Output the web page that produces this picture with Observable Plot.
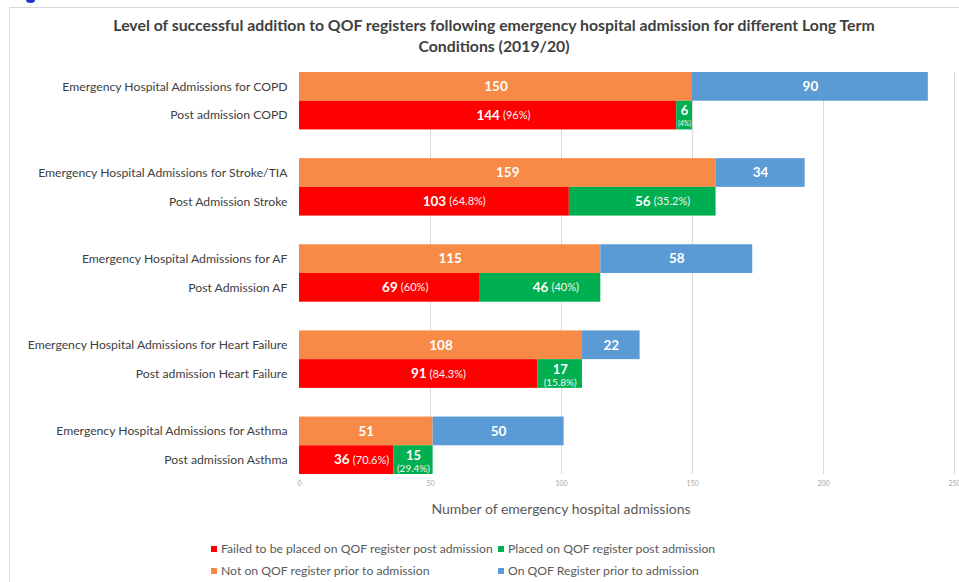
<!DOCTYPE html>
<html>
<head>
<meta charset="utf-8">
<script src="https://cdn.jsdelivr.net/npm/d3@7"></script>
<script src="https://cdn.jsdelivr.net/npm/@observablehq/plot@0.6"></script>
<style>
  html, body { margin: 0; padding: 0; width: 959px; height: 582px; overflow: hidden; background: #fff; font-family: Lato, "Open Sans", sans-serif; }
  #frame { position: absolute; left: 9px; top: 7px; width: 970px; height: 600px; border-left: 1px solid #d9d9d9; border-top: 1px solid #d9d9d9; }
  #blob { position: absolute; left: 26px; top: -3px; width: 9px; height: 6px; border-radius: 50%; background: #2233cc; }
  #title { position: absolute; left: 0; top: 14px; width: 988px; text-align: center; font-weight: bold; font-size: 15.8px; line-height: 21px; color: #404040; }
  #chart { position: absolute; left: 0; top: 0; }
  #xlabel { position: absolute; left: 361px; width: 400px; top: 500px; text-align: center; font-size: 14px; color: #595959; }
  .leg { position: absolute; font-size: 12.2px; color: #595959; white-space: nowrap; line-height: 14px; }
  .leg i { display: inline-block; width: 6px; height: 6px; margin-right: 4px; vertical-align: 1px; }
</style>
</head>
<body>
<div id="frame"></div>
<div id="blob"></div>
<div id="title">Level of successful addition to QOF registers following emergency hospital admission for different Long Term<br>Conditions (2019/20)</div>
<div id="chart"></div>
<div id="xlabel"></div>
<div id="legend"></div>
<script>
// ---- data ----
const emergencyLabels = [
  "Emergency Hospital Admissions for COPD",
  "Emergency Hospital Admissions for Stroke/TIA",
  "Emergency Hospital Admissions for AF",
  "Emergency Hospital Admissions for Heart Failure",
  "Emergency Hospital Admissions for Asthma"
];
const postLabels = [
  "Post admission COPD",
  "Post Admission Stroke",
  "Post Admission AF",
  "Post admission Heart Failure",
  "Post admission Asthma"
];
const notOnRegister = [150, 159, 115, 108, 51];
const onRegister    = [90, 34, 58, 22, 50];
const failedPost    = [144, 103, 69, 91, 36];
const placedPost    = [6, 56, 46, 17, 15];
const failedPct     = ["96%", "64.8%", "60%", "84.3%", "70.6%"];
const placedPct     = ["4%", "35.2%", "40%", "15.8%", "29.4%"];
const seriesNames = [
  "Failed to be placed on QOF register post admission",
  "Placed on QOF register post admission",
  "Not on QOF register prior to admission",
  "On QOF Register prior to admission"
];
const seriesColors = ["#ff0000", "#00b050", "#f78a47", "#5b9bd5"];
const xTicks = [0, 50, 100, 150, 200, 250];
const gridTicks = [50, 100, 150, 200, 250];
const xTitle = "Number of emergency hospital admissions";

// ---- build table ----
const rowDomain = [];
const table = [];
emergencyLabels.forEach((lab, i) => {
  rowDomain.push(lab, postLabels[i]);
  if (i < emergencyLabels.length - 1) rowDomain.push("gap" + i);
  const a = notOnRegister[i], b = onRegister[i];
  table.push({row: lab, series: seriesNames[2], value: a, x1: 0, x2: a, post: false});
  table.push({row: lab, series: seriesNames[3], value: b, x1: a, x2: a + b, post: false});
  const c = failedPost[i], d = placedPost[i];
  table.push({row: postLabels[i], series: seriesNames[0], value: c, x1: 0, x2: c, pct: failedPct[i], post: true, tiny: false});
  table.push({row: postLabels[i], series: seriesNames[1], value: d, x1: c, x2: c + d, pct: placedPct[i], post: true, tiny: d < 20});
});
table.forEach(d => d.mid = (d.x1 + d.x2) / 2);

const emerg = table.filter(d => !d.post);
const postInline = table.filter(d => d.post && !d.tiny);
const postTiny = table.filter(d => d.post && d.tiny);

const plot = Plot.plot({
  width: 959,
  height: 530,
  marginLeft: 299,
  marginRight: 5,
  marginTop: 72,
  marginBottom: 56,
  style: {fontFamily: "Lato, 'Open Sans', sans-serif", background: "transparent", overflow: "visible"},
  x: {domain: [0, 250], axis: null},
  y: {domain: rowDomain, padding: 0, round: false, axis: null},
  color: {domain: seriesNames, range: seriesColors},
  marks: [
    Plot.gridX(gridTicks, {stroke: "#d9d9d9", strokeOpacity: 1}),
    Plot.axisX(xTicks, {tickSize: 0, tickPadding: 7, fontSize: 7, fill: "#a6a6a6", label: null}),
    Plot.axisY({tickSize: 0, tickPadding: 12, fontSize: 12.2, fill: "#404040", label: null,
      tickFormat: d => d.startsWith("gap") ? "" : d}),
    Plot.barX(table, {x1: "x1", x2: "x2", y: "row", fill: "series", inset: 0}),
    Plot.text(emerg, {x: "mid", y: "row", text: d => String(d.value), fill: "white", fontWeight: "bold", fontSize: 13.5}),
    Plot.text(postInline, {x: "mid", y: "row", text: d => String(d.value), fill: "white", fontWeight: "bold", fontSize: 13.5, className: "pnum"}),
    Plot.text(postInline, {x: "mid", y: "row", text: d => `(${d.pct})`, fill: "#f4f4f4", fontSize: 11, textAnchor: "start", className: "ppct"}),
    Plot.text(postTiny, {x: "mid", y: "row", text: d => String(d.value), fill: "white", fontWeight: "bold", fontSize: 13, dy: -4.5}),
    Plot.text(postTiny, {x: "mid", y: "row", text: d => `(${d.pct})`, fill: "#f4f4f4", fontSize: d => d.value < 10 ? 7 : 10, dy: 8.5})
  ]
});
document.getElementById("chart").append(plot);

// align percentage text right after its bold number, keep inside segment
const xs = plot.scale("x");
const svgRect = plot.getBoundingClientRect();
const nums = plot.querySelectorAll(".pnum text");
const pcts = plot.querySelectorAll(".ppct text");
postInline.forEach((d, i) => {
  const a = nums[i].getBoundingClientRect();
  const b = pcts[i].getBoundingClientRect();
  let dx = a.right + 3 - b.left;
  const segEnd = svgRect.left + xs.apply(d.x2);
  const over = b.right + dx - (segEnd - 4);
  const shift = over > 0 ? over : 0;
  nums[i].setAttribute("dx", -shift);
  pcts[i].setAttribute("dx", dx - shift);
});

document.getElementById("xlabel").textContent = xTitle;

// legend
const legPos = [[211, 542], [498, 542], [211, 564], [498, 564]];
const legend = document.getElementById("legend");
seriesNames.forEach((s, i) => {
  const el = document.createElement("div");
  el.className = "leg";
  el.style.left = legPos[i][0] + "px";
  el.style.top = legPos[i][1] + "px";
  el.innerHTML = `<i style="background:${seriesColors[i]}"></i>${s}`;
  legend.append(el);
});
</script>
</body>
</html>
